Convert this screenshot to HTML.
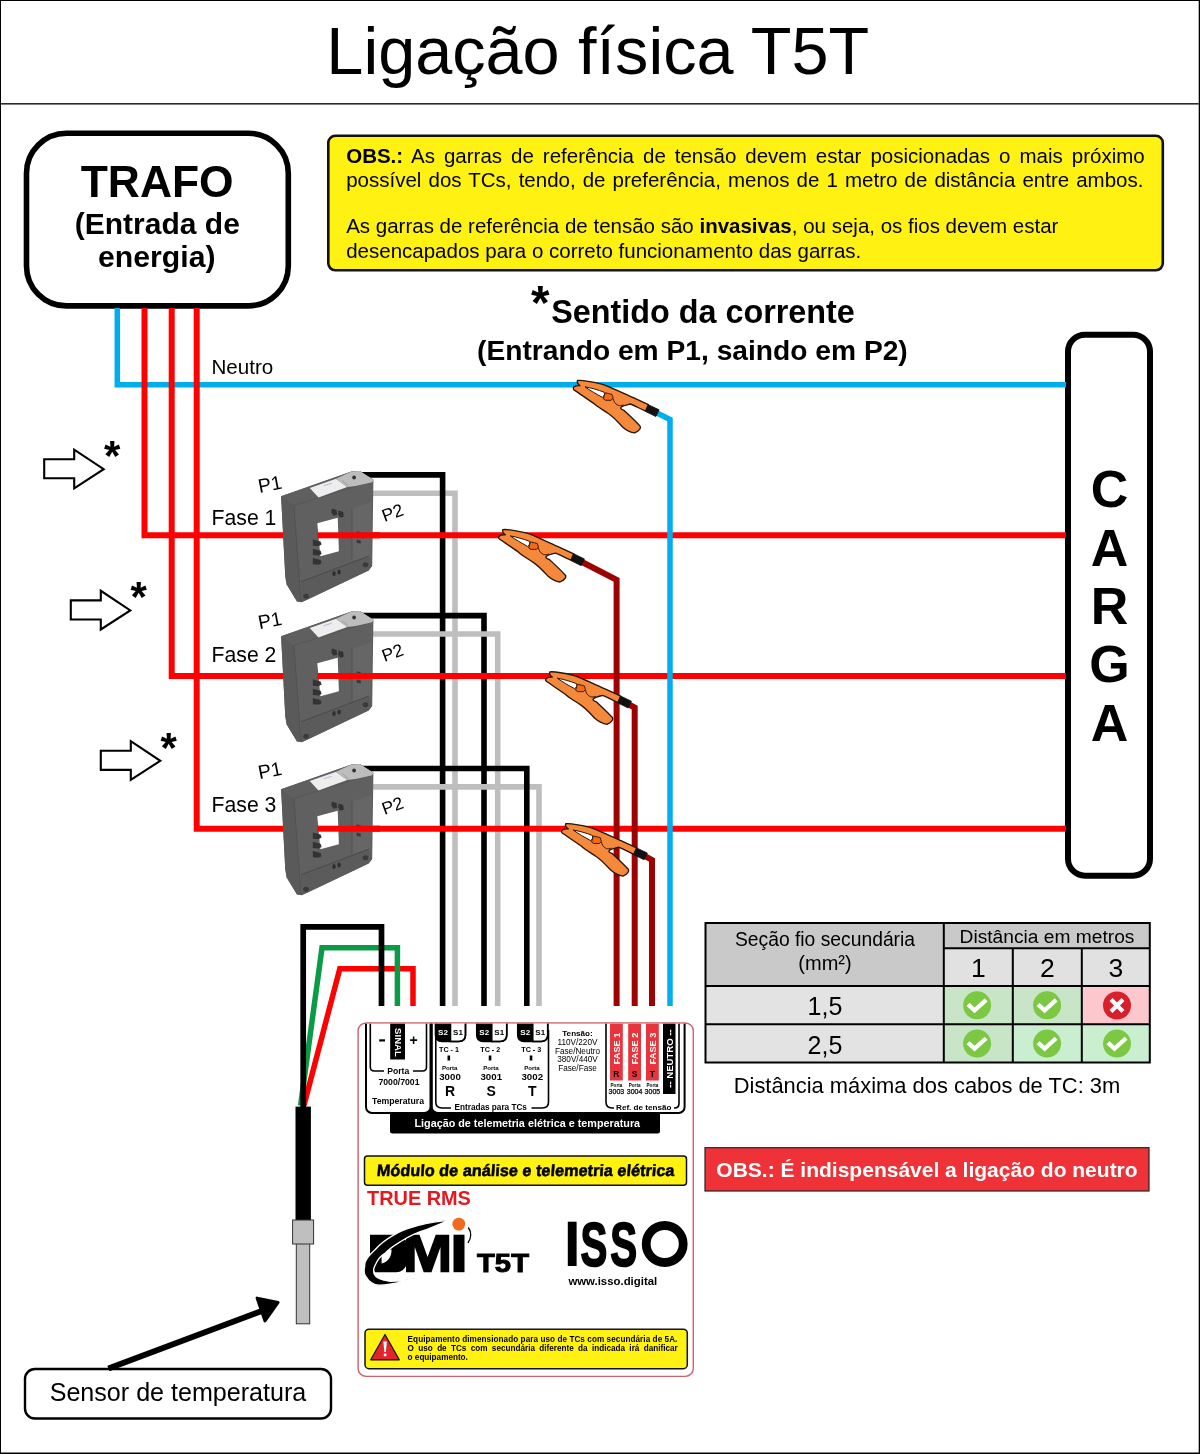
<!DOCTYPE html><html><head><meta charset="utf-8"><title>Ligação física T5T</title>
<style>html,body{margin:0;padding:0;background:#fff;}svg{display:block;font-family:"Liberation Sans",sans-serif;will-change:transform;}</style></head><body>
<svg width="1200" height="1454" viewBox="0 0 1200 1454">
<defs>
<g id="clamp">
<path d="M0,0 C5,-0.8 14,1.2 24.2,3.6 C33,6.2 42,11.5 55.8,17.2 L70.9,24.2 L68.1,30.6 C62,28 57,25 52.7,23.5 C50,24.2 46,25 43.8,26.5 C42.6,27.5 43,28.9 46.6,29.9 C52,35 58.5,41 62.6,45.6 C63.8,47.6 62,50.2 57.2,52.4 C52,51.8 48,49 45,46.4 C40.5,41.5 35.5,36 30.8,33 C25,29 19,25.8 15.8,22.6 C9.5,18.2 2.5,13.5 -3.2,9.6 C-4.8,8.4 -4.8,6.5 -1.4,5.4 C0.5,5 1.8,5.2 2.5,5.2 C0.2,3.5 -0.8,1.8 0,0 Z" fill="#F4893B" stroke="#2a140a" stroke-width="1.35" stroke-linejoin="round"/>
<path d="M7.5,6.3 C14,7.5 20.5,9.3 26.8,11.8 C27.6,13.8 26.6,15.6 24.8,16.8 C18.8,13.5 12.5,10 7.5,6.3 Z" fill="#fff" stroke="#2a140a" stroke-width="1"/>
<path d="M27.7,12.3 L34.5,13.9 L35.7,17.5 L33.7,19.8 L28.1,19.8 L25.8,18.3 Z" fill="#F26A12" stroke="#2a140a" stroke-width="0.9"/>
<path d="M35.7,18.2 C36.2,21 37.5,23.3 40.5,24.8 C42.5,25.4 44,25 46,24.4" fill="none" stroke="#2a140a" stroke-width="0.9"/>
<path d="M70.9,24.2 L81.6,29.3 L78.4,36.1 L68.1,31 Z" fill="#111" stroke="#111" stroke-width="0.8" stroke-linejoin="round"/>
</g>
</defs>
<rect x="0" y="0" width="1200" height="1454" fill="#000"/>
<rect x="1" y="1" width="1197.7" height="1451.5" fill="#fff"/>
<rect x="1" y="103" width="1197.7" height="1.6" fill="#2b2b2b"/>
<text x="597.8" y="74" font-size="66.6" text-anchor="middle" fill="#000" >Ligação física T5T</text>
<rect x="26.5" y="133.2" width="261.8" height="172.7" rx="40" ry="40" fill="#fff" stroke="#000" stroke-width="5.6"/>
<text x="157.2" y="197" font-size="44.4" font-weight="bold" text-anchor="middle" fill="#000" >TRAFO</text>
<text x="157.3" y="234" font-size="30" font-weight="bold" text-anchor="middle" fill="#000" >(Entrada de</text>
<text x="156.8" y="266.6" font-size="30.2" font-weight="bold" text-anchor="middle" fill="#000" >energia)</text>
<rect x="328.3" y="135.8" width="834.5" height="134.5" rx="7" ry="7" fill="#FFF213" stroke="#111" stroke-width="2.6"/>
<text x="346.2" y="162.8" font-size="20.5" word-spacing="3.3"><tspan font-weight="bold">OBS.:</tspan> As garras de referência de tensão devem estar posicionadas o mais próximo</text>
<text x="346.2" y="187.3" font-size="20.5" word-spacing="1.4">possível dos TCs, tendo, de preferência, menos de 1 metro de distância entre ambos.</text>
<text x="346.2" y="233.3" font-size="20.5">As garras de referência de tensão são <tspan font-weight="bold">invasivas</tspan>, ou seja, os fios devem estar</text>
<text x="346.2" y="257.6" font-size="20.5">desencapados para o correto funcionamento das garras.</text>
<text x="530.9" y="318.6" font-size="47.6" font-weight="bold" text-anchor="start" fill="#000" >*</text>
<text x="703" y="323" font-size="32.35" font-weight="bold" text-anchor="middle" fill="#000" >Sentido da corrente</text>
<text x="692.4" y="359.5" font-size="28.2" font-weight="bold" text-anchor="middle" fill="#000" >(Entrando em P1, saindo em P2)</text>
<rect x="1068" y="334.7" width="82" height="541" rx="17" ry="17" fill="#fff" stroke="#000" stroke-width="6"/>
<text x="1109.5" y="507.3" font-size="52" font-weight="bold" text-anchor="middle" fill="#000" >C</text>
<text x="1109.5" y="565.6" font-size="52" font-weight="bold" text-anchor="middle" fill="#000" >A</text>
<text x="1109.5" y="623.9" font-size="52" font-weight="bold" text-anchor="middle" fill="#000" >R</text>
<text x="1109.5" y="682.2" font-size="52" font-weight="bold" text-anchor="middle" fill="#000" >G</text>
<text x="1109.5" y="740.5" font-size="52" font-weight="bold" text-anchor="middle" fill="#000" >A</text>
<path d="M117.3,308 V384.8 H1066" fill="none" stroke="#02ADED" stroke-width="5.5" stroke-linejoin="miter"/>
<path d="M360,493.2 H455 V1006" fill="none" stroke="#BEBEBE" stroke-width="5.6" stroke-linejoin="miter" stroke-linecap="butt"/>
<path d="M350,474.9 H442.6 V1006" fill="none" stroke="#000" stroke-width="5.6" stroke-linejoin="miter" stroke-linecap="butt"/>
<path d="M350,615.6 H484 V1006" fill="none" stroke="#000" stroke-width="5.6" stroke-linejoin="miter" stroke-linecap="butt"/>
<path d="M360,634 H497.7 V1006" fill="none" stroke="#BEBEBE" stroke-width="5.6" stroke-linejoin="miter" stroke-linecap="butt"/>
<path d="M360,786.9 H539 V1006" fill="none" stroke="#BEBEBE" stroke-width="5.6" stroke-linejoin="miter" stroke-linecap="butt"/>
<path d="M350,768.5 H526.8 V1006" fill="none" stroke="#000" stroke-width="5.6" stroke-linejoin="miter" stroke-linecap="butt"/>
<path d="M144.5,308 V535.3 H1066" fill="none" stroke="#FE0000" stroke-width="6" stroke-linejoin="miter" stroke-linecap="butt"/>
<path d="M171.7,308 V676 H1066" fill="none" stroke="#FE0000" stroke-width="6" stroke-linejoin="miter" stroke-linecap="butt"/>
<path d="M196.7,308 V828.7 H1066" fill="none" stroke="#FE0000" stroke-width="6" stroke-linejoin="miter" stroke-linecap="butt"/>
<g><polygon points="281.1,496.3 351.5,471.6 359.8,470.9 373.4,479.8 372.2,566.1 368.6,570.4 309.7,598.5 301.5,602.2 297.0,601.6 286.7,584.4 285.3,576.6" fill="#606060"/><polygon points="281.1,496.3 293.9,505.4 301.0,601.6 297.0,601.6 286.7,584.4 285.3,576.6" fill="#5a5a5a"/><polyline points="293.9,505.4 301.0,601.6" fill="none" stroke="#4a4a4a" stroke-width="0.6"/><polygon points="281.1,496.3 351.5,471.6 359.8,470.9 373.4,479.8 372.2,482.2 293.9,505.4" fill="#5f5f5f"/><polyline points="293.9,505.4 372.2,481.2" fill="none" stroke="#505050" stroke-width="0.6"/><polygon points="309.7,488.1 336.0,478.8 347.2,487.0 318.5,497.4" fill="#ededed"/><polyline points="323.7,485.8 331.9,483.2" fill="none" stroke="#9aa6d8" stroke-width="0.7"/><polygon points="336.0,478.8 351.5,471.6 359.8,470.9 373.4,479.8 372.2,482.2 355.7,486.0 347.2,487.0" fill="#bdbdbd"/><polyline points="342.2,480.6 348.4,485.8" fill="none" stroke="#8a8a8a" stroke-width="0.6"/><circle cx="354.1" cy="477.5" r="1.9" fill="#333"/><polygon points="352.0,508.5 371.7,502.3 370.6,558.0 352.0,560.6" fill="#666666"/><polyline points="352.0,508.5 352.0,560.6" fill="none" stroke="#4a4a4a" stroke-width="0.7"/><polygon points="301.0,581.8 369.1,556.0 371.7,566.3 368.6,570.4 309.7,598.5 301.5,602.2" fill="#5b5b5b"/><polyline points="301.0,581.8 369.1,556.0" fill="none" stroke="#454545" stroke-width="0.8"/><polygon points="317.3,523.2 337.7,517.8 338.9,551.2 320.4,556.2" fill="#fff"/><polygon points="312.8,539.5 320.6,541.5 321.6,544.6 318.5,546.2 312.8,545.7" fill="#333"/><polygon points="312.8,548.8 320.6,550.8 321.6,553.9 318.5,555.5 312.8,554.9" fill="#333"/><polygon points="312.8,558.0 320.6,560.1 321.6,563.2 318.5,564.7 312.8,564.2" fill="#333"/><polygon points="331.9,508.5 336.6,510.1 337.1,514.7 333.5,515.7 331.4,512.6" fill="#333"/><polygon points="338.6,510.6 343.3,512.1 343.8,516.8 340.2,517.8 338.1,514.7" fill="#333"/><polygon points="356.7,531.2 360.8,532.2 360.8,535.3 356.7,534.8" fill="#3a3a3a"/><polygon points="356.7,539.5 360.8,540.5 360.8,543.6 356.7,543.1" fill="#3a3a3a"/><ellipse cx="306.1" cy="596.2" rx="2.8" ry="2.5" fill="#3a3a3a"/><ellipse cx="365.5" cy="564.7" rx="2.8" ry="2.5" fill="#3a3a3a"/><ellipse cx="334.0" cy="573.5" rx="1.7" ry="2.6" fill="#2e2e2e"/><ellipse cx="339.1" cy="572.0" rx="1.7" ry="2.6" fill="#2e2e2e"/></g>
<rect x="317.3" y="532.3" width="62.7" height="6" fill="#FE0000"/>
<g><polygon points="281.1,636.3 351.5,611.6 359.8,610.9 373.4,619.8 372.2,706.1 368.6,710.4 309.7,738.5 301.5,742.2 297.0,741.6 286.7,724.4 285.3,716.6" fill="#606060"/><polygon points="281.1,636.3 293.9,645.4 301.0,741.6 297.0,741.6 286.7,724.4 285.3,716.6" fill="#5a5a5a"/><polyline points="293.9,645.4 301.0,741.6" fill="none" stroke="#4a4a4a" stroke-width="0.6"/><polygon points="281.1,636.3 351.5,611.6 359.8,610.9 373.4,619.8 372.2,622.2 293.9,645.4" fill="#5f5f5f"/><polyline points="293.9,645.4 372.2,621.2" fill="none" stroke="#505050" stroke-width="0.6"/><polygon points="309.7,628.1 336.0,618.8 347.2,627.0 318.5,637.4" fill="#ededed"/><polyline points="323.7,625.8 331.9,623.2" fill="none" stroke="#9aa6d8" stroke-width="0.7"/><polygon points="336.0,618.8 351.5,611.6 359.8,610.9 373.4,619.8 372.2,622.2 355.7,626.0 347.2,627.0" fill="#bdbdbd"/><polyline points="342.2,620.6 348.4,625.8" fill="none" stroke="#8a8a8a" stroke-width="0.6"/><circle cx="354.1" cy="617.5" r="1.9" fill="#333"/><polygon points="352.0,648.5 371.7,642.3 370.6,698.0 352.0,700.6" fill="#666666"/><polyline points="352.0,648.5 352.0,700.6" fill="none" stroke="#4a4a4a" stroke-width="0.7"/><polygon points="301.0,721.8 369.1,696.0 371.7,706.3 368.6,710.4 309.7,738.5 301.5,742.2" fill="#5b5b5b"/><polyline points="301.0,721.8 369.1,696.0" fill="none" stroke="#454545" stroke-width="0.8"/><polygon points="317.3,663.2 337.7,657.8 338.9,691.2 320.4,696.2" fill="#fff"/><polygon points="312.8,679.5 320.6,681.5 321.6,684.6 318.5,686.2 312.8,685.7" fill="#333"/><polygon points="312.8,688.8 320.6,690.8 321.6,693.9 318.5,695.5 312.8,694.9" fill="#333"/><polygon points="312.8,698.0 320.6,700.1 321.6,703.2 318.5,704.7 312.8,704.2" fill="#333"/><polygon points="331.9,648.5 336.6,650.1 337.1,654.7 333.5,655.7 331.4,652.6" fill="#333"/><polygon points="338.6,650.6 343.3,652.1 343.8,656.8 340.2,657.8 338.1,654.7" fill="#333"/><polygon points="356.7,671.2 360.8,672.2 360.8,675.3 356.7,674.8" fill="#3a3a3a"/><polygon points="356.7,679.5 360.8,680.5 360.8,683.6 356.7,683.1" fill="#3a3a3a"/><ellipse cx="306.1" cy="736.2" rx="2.8" ry="2.5" fill="#3a3a3a"/><ellipse cx="365.5" cy="704.7" rx="2.8" ry="2.5" fill="#3a3a3a"/><ellipse cx="334.0" cy="713.5" rx="1.7" ry="2.6" fill="#2e2e2e"/><ellipse cx="339.1" cy="712.0" rx="1.7" ry="2.6" fill="#2e2e2e"/></g>
<rect x="317.3" y="673" width="62.7" height="6" fill="#FE0000"/>
<g><polygon points="281.1,789.3 351.5,764.6 359.8,763.9 373.4,772.8 372.2,859.1 368.6,863.4 309.7,891.5 301.5,895.2 297.0,894.6 286.7,877.4 285.3,869.6" fill="#606060"/><polygon points="281.1,789.3 293.9,798.4 301.0,894.6 297.0,894.6 286.7,877.4 285.3,869.6" fill="#5a5a5a"/><polyline points="293.9,798.4 301.0,894.6" fill="none" stroke="#4a4a4a" stroke-width="0.6"/><polygon points="281.1,789.3 351.5,764.6 359.8,763.9 373.4,772.8 372.2,775.2 293.9,798.4" fill="#5f5f5f"/><polyline points="293.9,798.4 372.2,774.2" fill="none" stroke="#505050" stroke-width="0.6"/><polygon points="309.7,781.1 336.0,771.8 347.2,780.0 318.5,790.4" fill="#ededed"/><polyline points="323.7,778.8 331.9,776.2" fill="none" stroke="#9aa6d8" stroke-width="0.7"/><polygon points="336.0,771.8 351.5,764.6 359.8,763.9 373.4,772.8 372.2,775.2 355.7,779.0 347.2,780.0" fill="#bdbdbd"/><polyline points="342.2,773.6 348.4,778.8" fill="none" stroke="#8a8a8a" stroke-width="0.6"/><circle cx="354.1" cy="770.5" r="1.9" fill="#333"/><polygon points="352.0,801.5 371.7,795.3 370.6,851.0 352.0,853.6" fill="#666666"/><polyline points="352.0,801.5 352.0,853.6" fill="none" stroke="#4a4a4a" stroke-width="0.7"/><polygon points="301.0,874.8 369.1,849.0 371.7,859.3 368.6,863.4 309.7,891.5 301.5,895.2" fill="#5b5b5b"/><polyline points="301.0,874.8 369.1,849.0" fill="none" stroke="#454545" stroke-width="0.8"/><polygon points="317.3,816.2 337.7,810.8 338.9,844.2 320.4,849.2" fill="#fff"/><polygon points="312.8,832.5 320.6,834.5 321.6,837.6 318.5,839.2 312.8,838.7" fill="#333"/><polygon points="312.8,841.8 320.6,843.8 321.6,846.9 318.5,848.5 312.8,847.9" fill="#333"/><polygon points="312.8,851.0 320.6,853.1 321.6,856.2 318.5,857.7 312.8,857.2" fill="#333"/><polygon points="331.9,801.5 336.6,803.1 337.1,807.7 333.5,808.7 331.4,805.6" fill="#333"/><polygon points="338.6,803.6 343.3,805.1 343.8,809.8 340.2,810.8 338.1,807.7" fill="#333"/><polygon points="356.7,824.2 360.8,825.2 360.8,828.3 356.7,827.8" fill="#3a3a3a"/><polygon points="356.7,832.5 360.8,833.5 360.8,836.6 356.7,836.1" fill="#3a3a3a"/><ellipse cx="306.1" cy="889.2" rx="2.8" ry="2.5" fill="#3a3a3a"/><ellipse cx="365.5" cy="857.7" rx="2.8" ry="2.5" fill="#3a3a3a"/><ellipse cx="334.0" cy="866.5" rx="1.7" ry="2.6" fill="#2e2e2e"/><ellipse cx="339.1" cy="865.0" rx="1.7" ry="2.6" fill="#2e2e2e"/></g>
<rect x="317.3" y="825.7" width="62.7" height="6" fill="#FE0000"/>
<text x="211.6" y="524.7" font-size="21.2" text-anchor="start" fill="#000" >Fase 1</text>
<text x="259.5" y="493" font-size="19.5" transform="rotate(-11 259.5 493)">P1</text>
<text x="384.5" y="522" font-size="17.6" transform="rotate(-20 384.5 522)">P2</text>
<text x="211.6" y="661.7" font-size="21.2" text-anchor="start" fill="#000" >Fase 2</text>
<text x="259.5" y="629.2" font-size="19.5" transform="rotate(-11 259.5 629.2)">P1</text>
<text x="384.5" y="662" font-size="17.6" transform="rotate(-20 384.5 662)">P2</text>
<text x="211.6" y="811.7" font-size="21.2" text-anchor="start" fill="#000" >Fase 3</text>
<text x="259.5" y="779.2" font-size="19.5" transform="rotate(-11 259.5 779.2)">P1</text>
<text x="384.5" y="815" font-size="17.6" transform="rotate(-20 384.5 815)">P2</text>
<text x="211.5" y="374" font-size="20.6" text-anchor="start" fill="#000" >Neutro</text>
<polygon points="44.2,459.2 74.2,459.2 74.2,449.6 103.7,469.2 74.2,488.3 74.2,478.3 44.2,478.3" fill="#fff" stroke="#000" stroke-width="2.1" stroke-linejoin="miter"/>
<text x="104.0" y="470.0" font-size="42" font-weight="bold" text-anchor="start" fill="#000" >*</text>
<polygon points="70.8,600.4 100.8,600.4 100.8,590.8 130.3,610.4 100.8,629.5 100.8,619.5 70.8,619.5" fill="#fff" stroke="#000" stroke-width="2.1" stroke-linejoin="miter"/>
<text x="130.6" y="611.1999999999999" font-size="42" font-weight="bold" text-anchor="start" fill="#000" >*</text>
<polygon points="100.8,750.8 130.8,750.8 130.8,741.2 160.3,760.8 130.8,779.9 130.8,769.9 100.8,769.9" fill="#fff" stroke="#000" stroke-width="2.1" stroke-linejoin="miter"/>
<text x="160.6" y="761.5999999999999" font-size="42" font-weight="bold" text-anchor="start" fill="#000" >*</text>
<path d="M655,412 L670,419.5 V1006" fill="none" stroke="#02ADED" stroke-width="5.5" stroke-linejoin="miter" stroke-linecap="butt"/>
<path d="M580,561 L616.6,579.8 V1006" fill="none" stroke="#9C0300" stroke-width="6" stroke-linejoin="miter" stroke-linecap="butt"/>
<path d="M627,703.5 L634.7,707.5 V1006" fill="none" stroke="#9C0300" stroke-width="6" stroke-linejoin="miter" stroke-linecap="butt"/>
<path d="M643,855 L652,860 V1006" fill="none" stroke="#9C0300" stroke-width="6" stroke-linejoin="miter" stroke-linecap="butt"/>
<use href="#clamp" transform="translate(577.5,380.5)"/>
<use href="#clamp" transform="translate(502.8,529.6)"/>
<use href="#clamp" transform="translate(549.8,671.9)"/>
<use href="#clamp" transform="translate(565.7,823.7)"/>
<path d="M413,1006 V968.8 H339.8 L303.9,1105.5" fill="none" stroke="#FE0000" stroke-width="5.5" stroke-linejoin="miter" stroke-linecap="butt"/>
<path d="M397.4,1006 V947.8 H322 L300.6,1105.5" fill="none" stroke="#0B9A45" stroke-width="5.5" stroke-linejoin="miter" stroke-linecap="butt"/>
<path d="M381.5,1006 V926.8 H303.2 V1108" fill="none" stroke="#000" stroke-width="5.7" stroke-linejoin="miter" stroke-linecap="butt"/>
<rect x="295.5" y="1106.6" width="15.4" height="113.6" fill="#000"/>
<rect x="296.3" y="1243.5" width="13.4" height="80.3" fill="#bfbfbf" stroke="#333" stroke-width="1"/>
<rect x="292.6" y="1220" width="21" height="24" fill="#bfbfbf" stroke="#333" stroke-width="1"/>
<rect x="25" y="1369" width="306" height="49.5" rx="10" ry="10" fill="#fff" stroke="#000" stroke-width="2.4"/>
<text x="178" y="1400.5" font-size="25.1" text-anchor="middle" fill="#000" >Sensor de temperatura</text>
<line x1="108.4" y1="1368.5" x2="263" y2="1310.5" stroke="#000" stroke-width="6"/>
<polygon points="278.1,1302.5 257.1,1298.1 265,1320.9" fill="#000" stroke="#000" stroke-width="3" stroke-linejoin="round"/>
<g stroke="none">
<rect x="705.5" y="923" width="238.3" height="63" fill="#c9c9c9"/>
<rect x="943.8" y="923" width="206" height="25.3" fill="#c9c9c9"/>
<rect x="943.8" y="948.3" width="206" height="37.7" fill="#e1e1e1"/>
<rect x="705.5" y="986" width="238.3" height="76.5" fill="#e3e3e3"/>
<rect x="943.8" y="986" width="138" height="38.2" fill="#c8e5c8"/>
<rect x="1081.8" y="986" width="68" height="38.2" fill="#fdc7ce"/>
<rect x="943.8" y="1024.2" width="69" height="38.3" fill="#c8e5c8"/>
<rect x="1012.8" y="1024.2" width="137" height="38.3" fill="#c9efd0"/>
</g>
<g stroke="#000" stroke-width="2" fill="none">
<path d="M705.5,923 H1149.8 V1062.5 H705.5 Z M943.8,923 V1062.5 M943.8,948.3 H1149.8 M1012.8,948.3 V1062.5 M1081.8,948.3 V1062.5 M705.5,986 H1149.8 M705.5,1024.2 H1149.8"/>
</g>
<text x="825" y="946.3" font-size="19.3" text-anchor="middle" fill="#000" >Seção fio secundária</text>
<text x="825" y="970.3" font-size="20" text-anchor="middle" fill="#000" >(mm²)</text>
<text x="1047" y="943" font-size="19.2" text-anchor="middle" fill="#000" >Distância em metros</text>
<text x="978.3" y="977" font-size="26.5" text-anchor="middle" fill="#000" >1</text>
<text x="1047.3" y="977" font-size="26.5" text-anchor="middle" fill="#000" >2</text>
<text x="1115.8" y="977" font-size="26.5" text-anchor="middle" fill="#000" >3</text>
<text x="825" y="1014.6" font-size="25" text-anchor="middle" fill="#000" >1,5</text>
<text x="825" y="1053.5" font-size="25" text-anchor="middle" fill="#000" >2,5</text>
<circle cx="977.1" cy="1005.3" r="14" fill="#7cc843"/>
<path d="M969.6,1005.8 L974.6,1010.3 L984.6,1001.3" fill="none" stroke="#fff" stroke-width="4.2" stroke-linecap="square"/>
<circle cx="1047.1" cy="1005.3" r="14" fill="#7cc843"/>
<path d="M1039.6,1005.8 L1044.6,1010.3 L1054.6,1001.3" fill="none" stroke="#fff" stroke-width="4.2" stroke-linecap="square"/>
<circle cx="1117" cy="1005.5" r="14" fill="#d7202a"/>
<path d="M1111,999.5 L1123,1011.5 M1123,999.5 L1111,1011.5" fill="none" stroke="#fff" stroke-width="4.2"/>
<circle cx="977.1" cy="1043.6" r="14" fill="#7cc843"/>
<path d="M969.6,1044.1 L974.6,1048.6 L984.6,1039.6" fill="none" stroke="#fff" stroke-width="4.2" stroke-linecap="square"/>
<circle cx="1047.1" cy="1043.6" r="14" fill="#7cc843"/>
<path d="M1039.6,1044.1 L1044.6,1048.6 L1054.6,1039.6" fill="none" stroke="#fff" stroke-width="4.2" stroke-linecap="square"/>
<circle cx="1117" cy="1043.6" r="14" fill="#7cc843"/>
<path d="M1109.5,1044.1 L1114.5,1048.6 L1124.5,1039.6" fill="none" stroke="#fff" stroke-width="4.2" stroke-linecap="square"/>
<text x="927" y="1092.6" font-size="21.9" text-anchor="middle" fill="#000" >Distância máxima dos cabos de TC: 3m</text>
<rect x="705" y="1147.7" width="444" height="43.3" fill="#ee3237" stroke="#222" stroke-width="1.2"/>
<text x="927" y="1176.5" font-size="21" font-weight="bold" text-anchor="middle" fill="#fff" >OBS.: É indispensável a ligação do neutro</text>
<rect x="358.1" y="1023" width="335.2" height="353.4" rx="8" ry="8" fill="#fff" stroke="#d0606a" stroke-width="1.4"/>
<clipPath id="modclip"><rect x="359" y="1023.7" width="333" height="200"/></clipPath>
<g clip-path="url(#modclip)">
<rect x="390" y="1100" width="270" height="33.5" rx="2.5" fill="#000"/>
<rect x="366" y="1000" width="64.5" height="113" rx="6" fill="#fff" stroke="#000" stroke-width="2"/>
<rect x="431.8" y="1000" width="252.8" height="113" rx="6" fill="#fff" stroke="#000" stroke-width="2"/>
<path d="M370.3,1000 V1067 Q370.3,1071 374.3,1071 H384 M413,1071 H422.5 Q426.5,1071 426.5,1067 V1000" fill="none" stroke="#000" stroke-width="1.6"/>
<rect x="390.2" y="1000" width="14.8" height="59.5" fill="#000"/>
<path d="M435.8,1030 V1102 Q435.8,1108 441.8,1108 H451 M531.5,1108 H542.5 Q548.5,1108 548.5,1102 V1030" fill="none" stroke="#000" stroke-width="1.6"/>
<path d="M606,1000 V1102 Q606,1108 612,1108 H614 M674,1108 H674.5 Q679,1108 679,1103.5 V1000" fill="none" stroke="#000" stroke-width="1.6"/>
<path d="M435.5,1000 V1035 Q435.5,1041.5 442.0,1041.5 H450.5 V1000 Z" fill="#000"/>
<path d="M450.5,1000 V1041.5 H459.0 Q465.5,1041.5 465.5,1035 V1000" fill="#fff" stroke="#000" stroke-width="1.6"/>
<path d="M435.5,1000 V1035 Q435.5,1041.5 442.0,1041.5 H459.0 Q465.5,1041.5 465.5,1035 V1000" fill="none" stroke="#000" stroke-width="1.6"/>
<path d="M476.75,1000 V1035 Q476.75,1041.5 483.25,1041.5 H491.75 V1000 Z" fill="#000"/>
<path d="M491.75,1000 V1041.5 H500.25 Q506.75,1041.5 506.75,1035 V1000" fill="#fff" stroke="#000" stroke-width="1.6"/>
<path d="M476.75,1000 V1035 Q476.75,1041.5 483.25,1041.5 H500.25 Q506.75,1041.5 506.75,1035 V1000" fill="none" stroke="#000" stroke-width="1.6"/>
<path d="M517.75,1000 V1035 Q517.75,1041.5 524.25,1041.5 H532.75 V1000 Z" fill="#000"/>
<path d="M532.75,1000 V1041.5 H541.25 Q547.75,1041.5 547.75,1035 V1000" fill="#fff" stroke="#000" stroke-width="1.6"/>
<path d="M517.75,1000 V1035 Q517.75,1041.5 524.25,1041.5 H541.25 Q547.75,1041.5 547.75,1035 V1000" fill="none" stroke="#000" stroke-width="1.6"/>
<rect x="610" y="1000" width="12.8" height="80.5" fill="#e8343c"/>
<rect x="628.2" y="1000" width="12.8" height="80.5" fill="#e8343c"/>
<rect x="646" y="1000" width="12.8" height="80.5" fill="#e8343c"/>
<rect x="663" y="1000" width="12.5" height="94" fill="#000"/>
</g>
<text x="398.2" y="1074.3" font-size="8.6" font-weight="bold" text-anchor="middle" fill="#000" >Porta</text>
<text x="399" y="1084.6" font-size="8.7" font-weight="bold" text-anchor="middle" fill="#000" >7000/7001</text>
<text x="398" y="1103.6" font-size="8.7" font-weight="bold" text-anchor="middle" fill="#000" >Temperatura</text>
<rect x="379.2" y="1039.3" width="5.8" height="2.2" fill="#000"/>
<text x="413.5" y="1045" font-size="14" font-weight="bold" text-anchor="middle" fill="#000" >+</text>
<text x="0" y="0" font-size="9.6" font-weight="bold" fill="#fff" text-anchor="middle" transform="translate(394.5 1042.5) rotate(90)">SINAL</text>
<text x="443.0" y="1034.6" font-size="8" font-weight="bold" text-anchor="middle" fill="#fff" >S2</text>
<text x="458.0" y="1034.6" font-size="8" font-weight="bold" text-anchor="middle" fill="#000" >S1</text>
<text x="449.0" y="1052" font-size="7.2" font-weight="bold" text-anchor="middle" fill="#000" >TC - 1</text>
<rect x="447.5" y="1055.5" width="2.6" height="5" fill="#000"/>
<text x="449.7" y="1069.5" font-size="6.1" font-weight="bold" text-anchor="middle" fill="#000" >Porta</text>
<text x="450.0" y="1079.8" font-size="9.7" font-weight="bold" text-anchor="middle" fill="#000" >3000</text>
<text x="450.0" y="1096.2" font-size="14" font-weight="bold" text-anchor="middle" fill="#000" >R</text>
<text x="484.25" y="1034.6" font-size="8" font-weight="bold" text-anchor="middle" fill="#fff" >S2</text>
<text x="499.25" y="1034.6" font-size="8" font-weight="bold" text-anchor="middle" fill="#000" >S1</text>
<text x="490.25" y="1052" font-size="7.2" font-weight="bold" text-anchor="middle" fill="#000" >TC - 2</text>
<rect x="488.75" y="1055.5" width="2.6" height="5" fill="#000"/>
<text x="490.95" y="1069.5" font-size="6.1" font-weight="bold" text-anchor="middle" fill="#000" >Porta</text>
<text x="491.25" y="1079.8" font-size="9.7" font-weight="bold" text-anchor="middle" fill="#000" >3001</text>
<text x="491.25" y="1096.2" font-size="14" font-weight="bold" text-anchor="middle" fill="#000" >S</text>
<text x="525.25" y="1034.6" font-size="8" font-weight="bold" text-anchor="middle" fill="#fff" >S2</text>
<text x="540.25" y="1034.6" font-size="8" font-weight="bold" text-anchor="middle" fill="#000" >S1</text>
<text x="531.25" y="1052" font-size="7.2" font-weight="bold" text-anchor="middle" fill="#000" >TC - 3</text>
<rect x="529.75" y="1055.5" width="2.6" height="5" fill="#000"/>
<text x="531.95" y="1069.5" font-size="6.1" font-weight="bold" text-anchor="middle" fill="#000" >Porta</text>
<text x="532.25" y="1079.8" font-size="9.7" font-weight="bold" text-anchor="middle" fill="#000" >3002</text>
<text x="532.25" y="1096.2" font-size="14" font-weight="bold" text-anchor="middle" fill="#000" >T</text>
<text x="490.7" y="1109.5" font-size="8.2" font-weight="bold" text-anchor="middle" fill="#000" >Entradas para TCs</text>
<text x="577.5" y="1035.5" font-size="8.1" font-weight="bold" text-anchor="middle" fill="#000" >Tensão:</text>
<text x="577.5" y="1044.5" font-size="8.2" text-anchor="middle" fill="#000" >110V/220V</text>
<text x="577.5" y="1053.5" font-size="8.2" text-anchor="middle" fill="#000" >Fase/Neutro</text>
<text x="577.5" y="1062.3" font-size="8.2" text-anchor="middle" fill="#000" >380V/440V</text>
<text x="577.5" y="1071" font-size="8.2" text-anchor="middle" fill="#000" >Fase/Fase</text>
<text x="0" y="0" font-size="9.2" font-weight="bold" fill="#fff" text-anchor="middle" transform="translate(619.6999999999999 1048.5) rotate(-90)">FASE 1</text>
<text x="616.4" y="1077" font-size="8.4" font-weight="bold" text-anchor="middle" fill="#000" >R</text>
<text x="616.4" y="1086.5" font-size="4.6" font-weight="bold" text-anchor="middle" fill="#000" >Porta</text>
<text x="616.4" y="1094" font-size="7" text-anchor="middle" fill="#000" stroke="#000" stroke-width="0.25">3003</text>
<text x="0" y="0" font-size="9.2" font-weight="bold" fill="#fff" text-anchor="middle" transform="translate(637.9 1048.5) rotate(-90)">FASE 2</text>
<text x="634.6" y="1077" font-size="8.4" font-weight="bold" text-anchor="middle" fill="#000" >S</text>
<text x="634.6" y="1086.5" font-size="4.6" font-weight="bold" text-anchor="middle" fill="#000" >Porta</text>
<text x="634.6" y="1094" font-size="7" text-anchor="middle" fill="#000" stroke="#000" stroke-width="0.25">3004</text>
<text x="0" y="0" font-size="9.2" font-weight="bold" fill="#fff" text-anchor="middle" transform="translate(655.6999999999999 1048.5) rotate(-90)">FASE 3</text>
<text x="652.4" y="1077" font-size="8.4" font-weight="bold" text-anchor="middle" fill="#000" >T</text>
<text x="652.4" y="1086.5" font-size="4.6" font-weight="bold" text-anchor="middle" fill="#000" >Porta</text>
<text x="652.4" y="1094" font-size="7" text-anchor="middle" fill="#000" stroke="#000" stroke-width="0.25">3005</text>
<text x="0" y="0" font-size="9.6" font-weight="bold" fill="#fff" text-anchor="middle" transform="translate(672.8 1058.5) rotate(-90)">-- NEUTRO --</text>
<text x="643.7" y="1109.5" font-size="8.1" font-weight="bold" text-anchor="middle" fill="#000" >Ref. de tensão</text>
<text x="527.3" y="1126.5" font-size="10.8" font-weight="bold" text-anchor="middle" fill="#fff" >Ligação de telemetria elétrica e temperatura</text>
<rect x="364.5" y="1156" width="322" height="29.2" rx="3" fill="#FFF213" stroke="#111" stroke-width="1.5"/>
<text x="0" y="0" font-size="16.3" font-weight="bold" text-anchor="middle" stroke="#000" stroke-width="0.5" transform="translate(525.3 1175.8) skewX(-4)">Módulo de análise e telemetria elétrica</text>
<text x="367" y="1205.2" font-size="19.9" font-weight="bold" text-anchor="start" fill="#e5171f" >TRUE RMS</text>
<g>
<path d="M370,1234.7 H396 C404.5,1234.7 409,1243 409,1253.5 C409,1264 404.5,1272.2 396,1272.2 H375 L370,1262 Z M391.6,1249.5 C386,1249.5 382,1252.5 381.6,1257 L381.6,1263.4 C387,1262.5 391.5,1258 391.6,1249.5 Z" fill="#000" fill-rule="evenodd"/>
<path d="M406,1272.2 V1234.7 H419.5 L427.6,1257 L435.7,1234.7 H449.2 V1272.2 H440.5 V1247 L431.5,1272.2 H423.7 L414.7,1247 V1272.2 Z" fill="#000"/>
<rect x="453.5" y="1234.7" width="11" height="37.5" fill="#000"/>
<circle cx="458.8" cy="1224.1" r="6.4" fill="#f26a1b"/>
<path d="M449.6,1220.3 C437,1221 427,1223 417.5,1225.5 C405,1229 398,1232 393.6,1235.1 C385,1240 380,1244 375.3,1249.5 C368,1256 364,1261 364.8,1265.8 C363.5,1271 364,1274 365.75,1276.4 C369,1282 374,1285.2 379.2,1285.2 C392,1285 405,1281 417.5,1278.3 C407,1280 397,1281.5 388.8,1281.2 C381,1280 375.5,1277.5 374.4,1274.4 C373,1271 373.5,1268 375.3,1264.9 C377.5,1260 380.5,1256 384.9,1253.4 C390,1248 395,1245 400.3,1241.8 C410,1235.5 418,1232 427.1,1229.4 C435,1226 442,1223 449.6,1220.3 Z" fill="#000" stroke="#fff" stroke-width="1.3" stroke-linejoin="round"/>
<path d="M468.3,1227.5 C471.5,1232 471.5,1238 467.9,1242.8" fill="none" stroke="#000" stroke-width="1.4"/>
</g>
<text x="477" y="1272.2" font-size="25" font-weight="bold" textLength="52" lengthAdjust="spacingAndGlyphs" stroke="#000" stroke-width="0.9">T5T</text>
<rect x="567.8" y="1221.7" width="8.8" height="44.3" fill="#000"/>
<text x="0" y="0" font-size="65" font-weight="bold" transform="translate(580.6 1266) scale(0.62 0.955)" stroke="#000" stroke-width="1.8">S</text>
<text x="0" y="0" font-size="65" font-weight="bold" transform="translate(610.3 1266) scale(0.62 0.955)" stroke="#000" stroke-width="1.8">S</text>
<circle cx="664.7" cy="1244" r="18.5" fill="none" stroke="#000" stroke-width="8.8"/>
<text x="612.8" y="1284.6" font-size="11.4" font-weight="bold" text-anchor="middle" fill="#000" >www.isso.digital</text>
<rect x="365" y="1329.2" width="322.3" height="39.5" rx="4" fill="#FFF213" stroke="#111" stroke-width="1.5"/>
<path d="M385,1334.5 L399.3,1359.8 H370.7 Z" fill="#e2242b" stroke="#111" stroke-width="1.2" stroke-linejoin="round"/>
<path d="M383.4,1341.5 H386.8 L385.9,1352 H384.3 Z" fill="#fff"/><rect x="383.8" y="1353.6" width="2.6" height="2.6" fill="#fff"/>
<text x="407.6" y="1341.7" font-size="8.16" font-weight="bold" textLength="269.8" lengthAdjust="spacing">Equipamento dimensionado para uso de TCs com secundária de 5A.</text>
<text x="407.6" y="1350.7" font-size="8.16" font-weight="bold" word-spacing="2.08">O uso de TCs com secundária diferente da indicada irá danificar</text>
<text x="407.6" y="1359.6" font-size="8.16" font-weight="bold">o equipamento.</text>
</svg></body></html>
